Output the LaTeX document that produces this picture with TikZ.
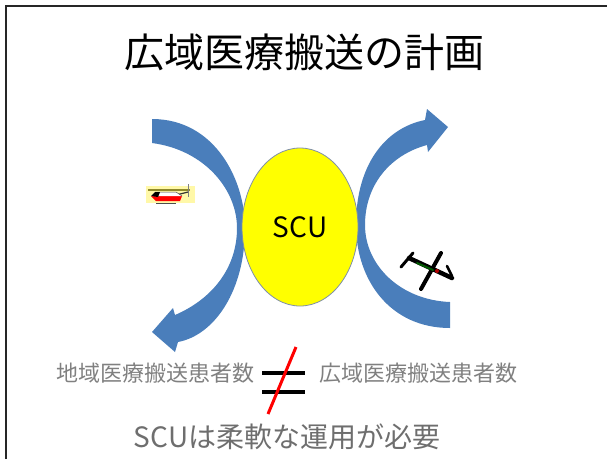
\documentclass[tikz,border=0pt]{standalone}
\usepackage{fontspec}
\newfontfamily\jp{Noto Sans CJK JP}
\usetikzlibrary{shapes.geometric}
\definecolor{arrowblue}{HTML}{4A7EBB}
\definecolor{scuyellow}{HTML}{FFFF00}
\definecolor{scuedge}{HTML}{7F8FA9}
\definecolor{softgray}{HTML}{808080}
\definecolor{notegray}{HTML}{6E6E6E}
\definecolor{heliback}{HTML}{FFF8A8}
\tikzset{
  titletext/.style={font=\jp\fontsize{40}{46}\selectfont, text=black, inner sep=0pt},
  rowtext/.style={font=\jp\fontsize{22}{26}\selectfont, text=softgray, inner sep=0pt},
  notetext/.style={font=\jp\fontsize{28}{34}\selectfont, text=notegray, inner sep=0pt},
  curvedarrow/.style={fill=arrowblue, draw=none},
  scubox/.style={ellipse, draw=scuedge, line width=0.8pt, fill=scuyellow,
    minimum width=116pt, minimum height=158pt, inner sep=0pt,
    font=\jp\fontsize{28}{32}\selectfont},
  framerule/.style={line width=2pt, draw=black!85},
  eqbar/.style={line width=4pt, draw=black},
  slash/.style={line width=3pt, draw=red}
}
\begin{document}
\begin{tikzpicture}[x=1pt, y=-1pt]
\useasboundingbox (0,0) rectangle (607,459);

% slide frame (top and left edges)
\draw[framerule] (6,459) -- (6,6) -- (607,6);

% title
\node[titletext] (title) at (304,52) {広域医療搬送の計画};

% left curved arrow (from top-left, around SCU, back down-left)
\fill[curvedarrow]
  (152,119) .. controls (215,119) and (245,180) .. (245,228)
  .. controls (245,290) and (215,335) .. (178,342)
  -- (175,352) -- (152,332) -- (173,308) -- (175,315)
  .. controls (210,300) and (237,270) .. (237,228)
  .. controls (237,190) and (205,150) .. (152,143) -- cycle;

% right curved arrow (from bottom-right, around SCU, up to the right)
\fill[curvedarrow]
  (450,328) .. controls (390,328) and (356,280) .. (356,225)
  .. controls (356,165) and (385,128) .. (425,120)
  -- (427,109) -- (448,127) -- (428,152) -- (427,145)
  .. controls (390,155) and (365,185) .. (365,225)
  .. controls (365,265) and (400,300) .. (450,302) -- cycle;

% SCU
\node[scubox] (scu) at (300,227) {SCU};

% helicopter icon
\fill[heliback] (146,186) rectangle (195,203);
\draw[line width=1.2pt, draw=olive!70!gray] (148,190) -- (190,190);
\draw[line width=1pt, draw=gray] (188,184) -- (188,197);
\draw[line width=1.2pt, draw=black!80] (176,195) -- (188,192);
\fill[red] (151,196) -- (182,196) -- (180,201) -- (156,201) -- cycle;
\fill[white] (155,192) -- (176,192) -- (182,196) -- (151,196) -- cycle;
\draw[line width=0.5pt, draw=black!70] (155,192) -- (176,192) -- (182,196);
\fill[black] (151,196) -- (155,192) -- (160,192) -- (158,197) -- cycle;
\draw[line width=0.6pt, draw=black!70] (156,203) -- (176,203);

% aircraft icon
\draw[line width=4.5pt, line cap=round, draw=black] (409,258) -- (452,278);
\draw[line width=4pt, line cap=round, draw=black] (441,253) -- (421,289);
\draw[line width=3pt, line cap=round, draw=black] (401,267) -- (413,253);
\draw[line width=2pt, line cap=round, draw=green!35!black] (417,263) -- (433,270);
\fill[red!70!black] (437,271) circle (2pt);
\draw[line width=2.5pt, line cap=round, draw=black] (447,266) -- (452,276);

% comparison row
\node[rowtext] (local) at (155,373) {地域医療搬送患者数};
\node[rowtext] (wide) at (418,373) {広域医療搬送患者数};
\coordinate (barAl) at (262,373);
\coordinate (barAr) at (305,373);
\coordinate (barBl) at (262,392);
\coordinate (barBr) at (305,392);
\draw[eqbar] (barAl) -- (barAr);
\draw[eqbar] (barBl) -- (barBr);
\coordinate (slashTop) at (296,347);
\coordinate (slashBot) at (268,414);
\draw[slash] (slashTop) -- (slashBot);

% conclusion
\node[notetext] (note) at (287,437) {SCUは柔軟な運用が必要};
\end{tikzpicture}
\end{document}
